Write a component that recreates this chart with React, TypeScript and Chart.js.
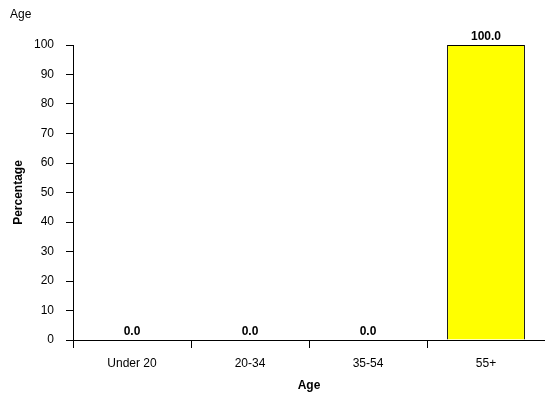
import React, { useEffect, useRef } from "react";
import { Chart, registerables } from "chart.js";

Chart.register(...registerables);

const categories = ["Under 20", "20-34", "35-54", "55+"];
const values = [0, 0, 0, 100];
const yTicks = [0, 10, 20, 30, 40, 50, 60, 70, 80, 90, 100];

const FONT = "'Liberation Sans', Arial, Helvetica, sans-serif";

const labelsPlugin = {
  id: "labelsPlugin",
  afterDatasetsDraw(chart: any) {
    const ctx = chart.ctx;
    ctx.save();
    ctx.fillStyle = "#000";
    ctx.font = `bold 12px ${FONT}`;
    ctx.textAlign = "center";
    ctx.textBaseline = "alphabetic";
    const meta = chart.getDatasetMeta(0);
    meta.data.forEach((bar: any, i: number) => {
      ctx.fillText(values[i].toFixed(1), bar.x, bar.y - 5);
    });
    ctx.font = `12px ${FONT}`;
    ctx.textAlign = "left";
    ctx.fillText("Age", 10, 18);
    ctx.restore();
  },
};

export default function App() {
  const ref = useRef<HTMLCanvasElement>(null);
  useEffect(() => {
    if (!ref.current) return;
    const chart = new Chart(ref.current, {
      type: "bar",
      data: {
        labels: categories,
        datasets: [
          {
            data: values,
            backgroundColor: "#ffff00",
            borderColor: "#000",
            borderWidth: 1,
            barPercentage: 0.66,
            categoryPercentage: 1,
          },
        ],
      },
      options: {
        responsive: false,
        animation: false,
        devicePixelRatio: 1,
        layout: { padding: { top: 45, right: 0, left: 0, bottom: 0 } },
        plugins: { legend: { display: false }, tooltip: { enabled: false }, title: { display: false } },
        scales: {
          x: {
            afterFit: (s: any) => {
              s.height = 56;
            },
            grid: { display: true, drawOnChartArea: false, drawTicks: true, tickLength: 8, color: "#000", offset: true },
            border: { display: true, color: "#000", width: 1 },
            ticks: { color: "#000", font: { family: FONT, size: 12 }, padding: 8, maxRotation: 0 },
            title: { display: true, text: "Age", color: "#000", font: { family: FONT, size: 12, weight: "bold" }, padding: { top: 0, bottom: 3 } },
          },
          y: {
            min: 0,
            max: 100,
            afterFit: (s: any) => {
              s.width = 73;
            },
            afterBuildTicks: (s: any) => {
              s.ticks = yTicks.map((v) => ({ value: v }));
            },
            grid: { display: true, drawOnChartArea: false, drawTicks: true, tickLength: 7, color: "#000" },
            border: { display: true, color: "#000", width: 1 },
            ticks: { color: "#000", font: { family: FONT, size: 12 }, padding: 12 },
            title: { display: true, text: "Percentage", color: "#000", font: { family: FONT, size: 12, weight: "bold" }, padding: { top: 11, bottom: 0 } },
          },
        },
      },
      plugins: [labelsPlugin],
    });
    return () => chart.destroy();
  }, []);
  return (
    <div style={{ position: "absolute", left: 0, top: 0, width: 545, height: 396, background: "#fff" }}>
      <canvas ref={ref} width={545} height={396} />
    </div>
  );
}
